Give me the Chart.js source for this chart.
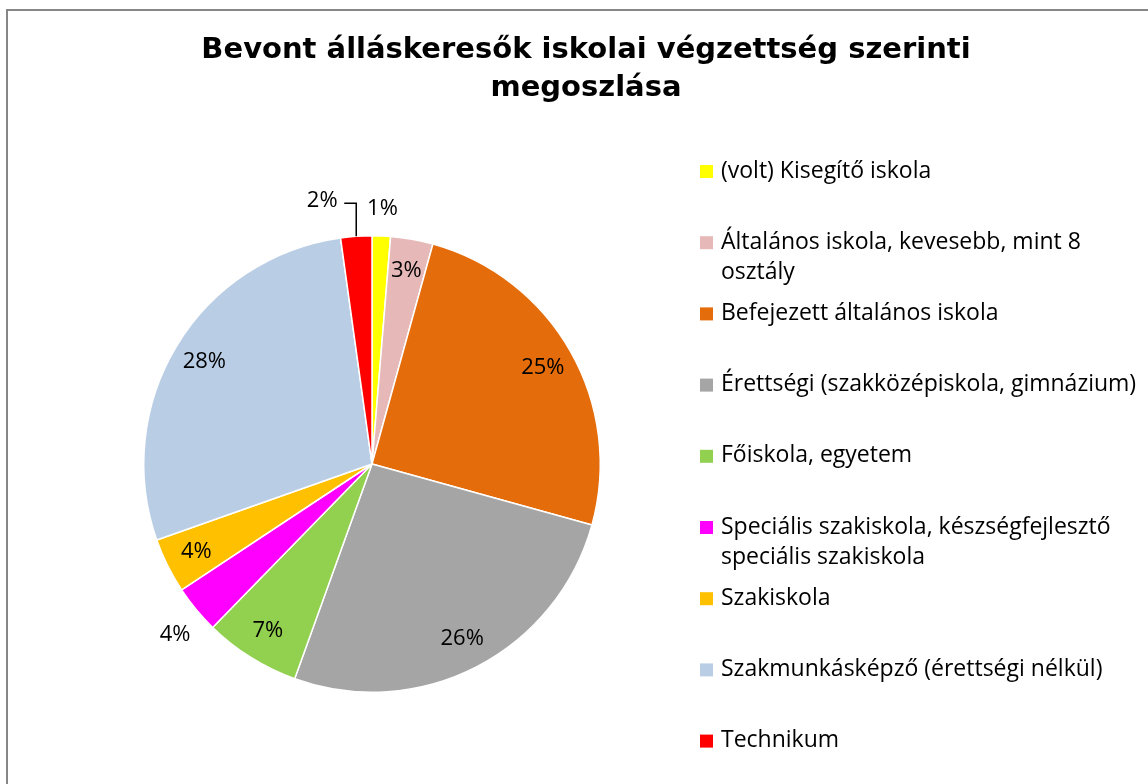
<!DOCTYPE html>
<html>
<head>
<meta charset="utf-8">
<script src="https://cdn.jsdelivr.net/npm/chart.js@4"></script>
<style>
  html, body { margin: 0; padding: 0; background: #fff; }
  #wrap { position: relative; width: 1148px; height: 784px; }
</style>
</head>
<body>
<div id="wrap"><canvas id="pieChart" width="1148" height="784"></canvas></div>
<script>
// adatok - a kép alapján becsült arányok (%)
const categories = [
  '(volt) Kisegítő iskola',
  'Általános iskola, kevesebb, mint 8 osztály',
  'Befejezett általános iskola',
  'Érettségi (szakközépiskola, gimnázium)',
  'Főiskola, egyetem',
  'Speciális szakiskola, készségfejlesztő speciális szakiskola',
  'Szakiskola',
  'Szakmunkásképző (érettségi nélkül)',
  'Technikum'
];
// sortörés a jelmagyarázatban, ahogy az eredetiben
const legendLines = [
  ['(volt) Kisegítő iskola'],
  ['Általános iskola, kevesebb, mint 8', 'osztály'],
  ['Befejezett általános iskola'],
  ['Érettségi (szakközépiskola, gimnázium)'],
  ['Főiskola, egyetem'],
  ['Speciális szakiskola, készségfejlesztő', 'speciális szakiskola'],
  ['Szakiskola'],
  ['Szakmunkásképző (érettségi nélkül)'],
  ['Technikum']
];
const shares = [1.3, 3.0, 25.0, 26.2, 6.8, 3.4, 3.9, 28.2, 2.2];
const pctLabels = ['1%', '3%', '25%', '26%', '7%', '4%', '4%', '28%', '2%'];
const colors = ['#FFFF00', '#E6B9B8', '#E46C0A', '#A5A5A5', '#92D050', '#FF00FF', '#FFC000', '#B9CDE5', '#FF0000'];

const FONT = "'Open Sans', 'Noto Sans', sans-serif";

// cimke: kívül vagy belül
const labelPlace = ['out', 'in', 'in', 'in', 'in', 'out', 'in', 'in', 'leader'];

const framePlugin = {
  id: 'frame',
  beforeDraw(chart) {
    const c = chart.ctx;
    c.save();
    c.fillStyle = '#fff';
    c.fillRect(0, 0, chart.width, chart.height);
    c.strokeStyle = '#868686';
    c.lineWidth = 2;
    c.strokeRect(7, 10, chart.width + 10, chart.height + 10);
    c.restore();
  }
};

const titlePlugin = {
  id: 'twoLineTitle',
  afterDraw(chart) {
    const c = chart.ctx;
    c.save();
    c.fillStyle = '#000';
    c.font = "bold 29px 'DejaVu Sans', Verdana, sans-serif";
    c.textAlign = 'center';
    c.textBaseline = 'middle';
    c.fillText('Bevont álláskeresők iskolai végzettség szerinti', 586, 50);
    c.fillText('megoszlása', 586, 88);
    c.restore();
  }
};

const sliceLabelPlugin = {
  id: 'sliceLabels',
  afterDatasetsDraw(chart) {
    const c = chart.ctx;
    const arcs = chart.getDatasetMeta(0).data;
    c.save();
    c.font = '22px ' + FONT;
    c.fillStyle = '#000';
    c.textAlign = 'center';
    c.textBaseline = 'middle';
    arcs.forEach((arc, i) => {
      const p = arc.getProps(['x', 'y', 'startAngle', 'endAngle', 'outerRadius'], true);
      const mid = (p.startAngle + p.endAngle) / 2;
      const R = p.outerRadius;
      let r = R * 0.86;
      if (labelPlace[i] === 'out') r = R * 1.12;
      let lx = p.x + Math.cos(mid) * r;
      let ly = p.y + Math.sin(mid) * r;
      if (i === 5) ly += 8;
      if (labelPlace[i] === 'leader') {
        // cimke balra tolva, vezetővonallal
        const ex = p.x + Math.cos(mid) * R;
        const ey = p.y + Math.sin(mid) * R;
        lx = ex - 34;
        ly = ey - 36;
        c.strokeStyle = '#000';
        c.lineWidth = 1.5;
        c.beginPath();
        c.moveTo(lx + 22, ly + 3);
        c.lineTo(ex, ly + 3);
        c.lineTo(ex, ey);
        c.stroke();
      }
      c.fillText(pctLabels[i], lx, ly);
    });
    c.restore();
  }
};

const legendPlugin = {
  id: 'sideLegend',
  afterDraw(chart) {
    const c = chart.ctx;
    const x0 = 700, y0 = 171, step = 71.2, lineH = 30;
    c.save();
    c.font = '23px ' + FONT;
    c.textBaseline = 'middle';
    c.textAlign = 'left';
    legendLines.forEach((lines, i) => {
      const y = y0 + step * i;
      c.fillStyle = colors[i];
      c.fillRect(x0, y - 6, 13, 13);
      c.fillStyle = '#000';
      lines.forEach((t, k) => c.fillText(t, x0 + 21, y + k * lineH));
    });
    c.restore();
  }
};

new Chart(document.getElementById('pieChart'), {
  type: 'pie',
  data: {
    labels: categories,
    datasets: [{
      data: shares,
      backgroundColor: colors,
      borderColor: '#ffffff',
      borderWidth: 1.5
    }]
  },
  options: {
    responsive: false,
    animation: false,
    layout: { padding: { top: 235, bottom: 91, left: 143, right: 547 } },
    plugins: {
      legend: { display: false },
      title: { display: false },
      tooltip: { enabled: false }
    }
  },
  plugins: [framePlugin, sliceLabelPlugin, legendPlugin, titlePlugin]
});
</script>
</body>
</html>
